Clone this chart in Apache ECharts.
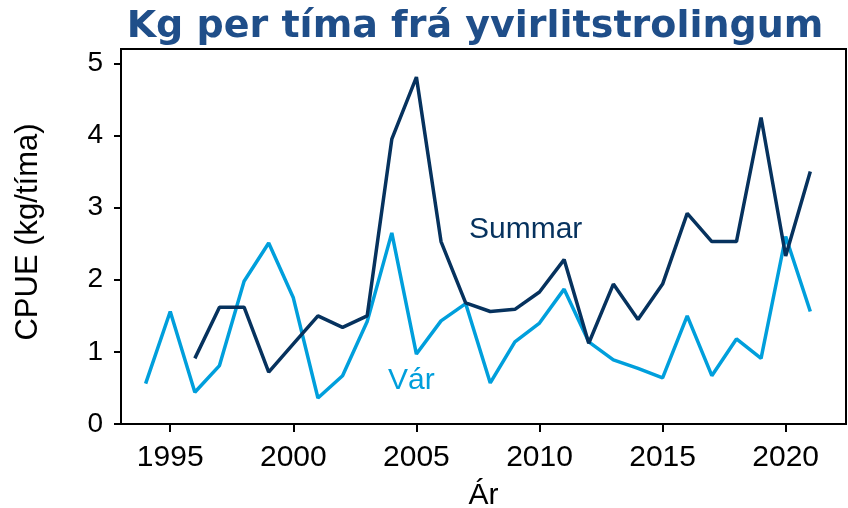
<!DOCTYPE html>
<html>
<head>
<meta charset="utf-8">
<script src="https://cdn.jsdelivr.net/npm/echarts@6/dist/echarts.min.js"></script>
<style>html,body{margin:0;padding:0;background:#fff}#c{width:848px;height:508px}</style>
</head>
<body>
<div id="c"></div>
<script>
const years = [1994,1995,1996,1997,1998,1999,2000,2001,2002,2003,2004,2005,2006,2007,2008,2009,2010,2011,2012,2013,2014,2015,2016,2017,2018,2019,2020,2021];
const varValues = [0.56,1.56,0.44,0.81,1.98,2.51,1.75,0.36,0.67,1.42,2.65,0.97,1.43,1.67,0.57,1.14,1.40,1.87,1.14,0.89,0.77,0.64,1.50,0.67,1.18,0.91,2.60,1.56];
const summarValues = [null,null,0.91,1.62,1.62,0.72,1.11,1.50,1.34,1.50,3.95,4.81,2.53,1.68,1.56,1.59,1.83,2.28,1.12,1.94,1.45,1.94,2.92,2.53,2.53,4.25,2.33,3.50];
const xTicks = [1995,2000,2005,2010,2015,2020];
const yTicks = [0,1,2,3,4,5];
const title = 'Kg per tíma frá yvirlitstrolingum';
const yName = 'CPUE (kg/tíma)';
const xName = 'Ár';
const seriesNames = ['Vár','Summar'];

const FONT = '"Liberation Sans", Arial, sans-serif';
const chart = echarts.init(document.getElementById('c'), null, {renderer:'canvas'});
const pair = (vals) => years.map((y,i) => [y, vals[i]]);
chart.setOption({
  animation: false,
  backgroundColor: '#fff',
  title: {
    text: title, left: 470, top: 3, textAlign: 'center',
    textStyle: {fontFamily: '"DejaVu Sans"', fontWeight: 'bold', fontSize: 38, color: '#1F4E89'}
  },
  grid: {left: 121, right: 2, top: 49, bottom: 84, show: true, borderColor: '#000', borderWidth: 2,
    containLabel: false, outerBoundsMode: 'none'},
  xAxis: {
    type: 'value', min: 1993, max: 2022.45,
    name: xName, nameLocation: 'middle', nameGap: 57,
    nameTextStyle: {fontFamily: FONT, fontSize: 30, color: '#000'},
    axisLine: {show: true, onZero: false, lineStyle: {color: '#000', width: 2}},
    axisTick: {show: true, length: 8, lineStyle: {color: '#000', width: 2}, customValues: xTicks},
    axisLabel: {fontFamily: FONT, fontSize: 30, color: '#000', margin: 19, customValues: xTicks,
      formatter: (v) => String(v)},
    splitLine: {show: false}
  },
  yAxis: {
    type: 'value', min: 0, max: 5.2,
    name: yName, nameLocation: 'middle', nameGap: 77, nameRotate: 90,
    nameTextStyle: {fontFamily: FONT, fontSize: 31, color: '#000', padding: [0, 0, 0, 9]},
    axisLine: {show: true, lineStyle: {color: '#000', width: 2}},
    axisTick: {show: true, length: 7, lineStyle: {color: '#000', width: 2}, customValues: yTicks},
    axisLabel: {fontFamily: FONT, fontSize: 28, color: '#000', margin: 18, customValues: yTicks,
      padding: [14, 0, 0, 0]},
    splitLine: {show: false}
  },
  series: [
    {name: seriesNames[0], type: 'line', data: pair(varValues), showSymbol: false, symbol: 'none',
     lineStyle: {color: '#009FDC', width: 3.5}, z: 2},
    {name: seriesNames[1], type: 'line', data: pair(summarValues), showSymbol: false, symbol: 'none', connectNulls: false,
     lineStyle: {color: '#06325E', width: 3.5}, z: 3}
  ],
  graphic: [
    {type: 'text', left: 469, top: 215, style: {text: seriesNames[1], font: '30px "Liberation Sans", Arial', fill: '#06325E'}},
    {type: 'text', left: 388, top: 366, style: {text: seriesNames[0], font: '30px "Liberation Sans", Arial', fill: '#009FDC'}}
  ]
});
</script>
</body>
</html>
